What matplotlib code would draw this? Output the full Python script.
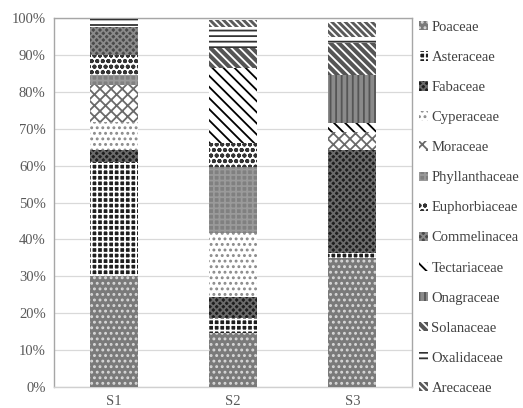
import matplotlib
matplotlib.use("Agg")
import matplotlib.pyplot as plt
import numpy as np

plt.rcParams['font.family'] = ['Liberation Serif', 'DejaVu Serif']
plt.rcParams['hatch.linewidth'] = 1.3

sites = ["S1", "S2", "S3"]
families = ["Poaceae", "Asteraceae", "Fabaceae", "Cyperaceae", "Moraceae",
            "Phyllanthaceae", "Euphorbiaceae", "Commelinacea", "Tectariaceae",
            "Onagraceae", "Solanaceae", "Oxalidaceae", "Arecaceae"]

# percent share per family for S1, S2, S3
poaceae        = [30.0, 14.6, 35.0]
asteraceae     = [31.0, 4.1, 1.3]
fabaceae       = [3.2, 5.7, 27.9]
cyperaceae     = [7.6, 17.3, 0.0]
moraceae       = [10.0, 0.0, 4.9]
phyllanthaceae = [2.8, 17.9, 0.0]
euphorbiaceae  = [5.4, 6.5, 0.0]
commelinacea   = [7.6, 0.0, 0.0]
tectariaceae   = [0.0, 20.3, 2.4]
onagraceae     = [0.0, 0.0, 13.1]
solanaceae     = [0.0, 5.4, 8.7]
oxalidaceae    = [2.4, 5.7, 1.6]
arecaceae      = [0.0, 1.9, 4.1]

values = [poaceae, asteraceae, fabaceae, cyperaceae, moraceae, phyllanthaceae,
          euphorbiaceae, commelinacea, tectariaceae, onagraceae, solanaceae,
          oxalidaceae, arecaceae]

styles = [
    ('#7a7a7a', '#d8d8d8', '...'),     # Poaceae
    ('#1e1e1e', 'white', '+++'),       # Asteraceae
    ('#1e1e1e', '#6a6a6a', 'xxxxx'),   # Fabaceae
    ('white', '#8a8a8a', '...'),       # Cyperaceae
    ('white', '#6a6a6a', 'xxx'),       # Moraceae
    ('#808080', '#9a9a9a', '+++'),     # Phyllanthaceae
    ('white', '#333333', 'ooo'),       # Euphorbiaceae
    ('#4a4a4a', '#8a8a8a', 'xxxxx'),   # Commelinacea
    ('white', 'black', '\\\\\\'),      # Tectariaceae
    ('#8a8a8a', '#555555', '|||'),     # Onagraceae
    ('#555555', 'white', '\\\\\\\\'),  # Solanaceae
    ('white', '#333333', '---'),       # Oxalidaceae
    ('#5a5a5a', 'white', '\\\\\\\\\\'),  # Arecaceae
]

fig = plt.figure(figsize=(5.23, 4.08), dpi=100)
ax = fig.add_axes([54/523, 1-387/408, (412-54)/523, (387-18)/408])

x = np.arange(len(sites))
bottom = np.zeros(len(sites))
for name, vals, (fc, hc, hatch) in zip(families, values, styles):
    v = np.array(vals)
    ax.bar(x, v, width=0.40, bottom=bottom, facecolor=fc, edgecolor=hc,
           hatch=hatch, linewidth=0, label=name, zorder=3)
    bottom += v

ax.set_xlim(-0.5, 2.5)
ax.set_ylim(0, 100)
ax.set_yticks(np.arange(0, 101, 10))
ax.set_yticklabels([f"{t}%" for t in range(0, 101, 10)])
ax.set_xticks(x)
ax.set_xticklabels(sites)
ax.tick_params(axis='both', length=0, labelsize=10.5, colors='#595959', pad=6)
ax.grid(axis='y', color='#d9d9d9', linewidth=0.9, zorder=0)
for side in ['left', 'top', 'right']:
    ax.spines[side].set_color('#a6a6a6')
    ax.spines[side].set_linewidth(1.0)
ax.spines['bottom'].set_color('#d0d0d0')
ax.spines['bottom'].set_linewidth(1.0)

leg = fig.legend(loc='upper left', bbox_to_anchor=(419/523, 1-21/408),
                 frameon=False, fontsize=10.5, handlelength=0.6,
                 handleheight=0.6, handletextpad=0.25, labelspacing=1.17,
                 borderaxespad=0, borderpad=0)
for t in leg.get_texts():
    t.set_color('#404040')

fig.savefig("out.png", dpi=100)
